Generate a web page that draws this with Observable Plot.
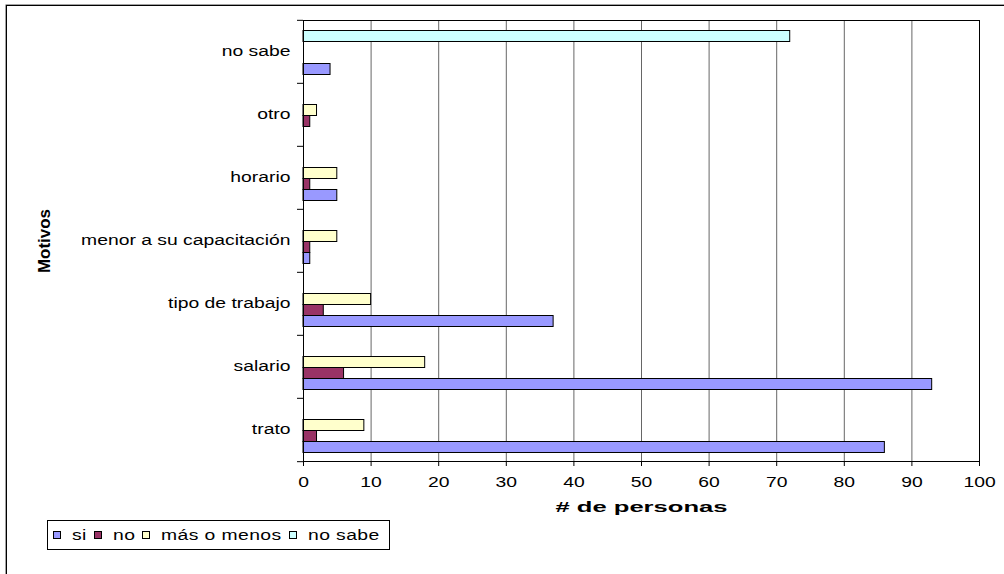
<!DOCTYPE html>
<html>
<head>
<meta charset="utf-8">
<script src="https://cdn.jsdelivr.net/npm/d3@7"></script>
<script src="https://cdn.jsdelivr.net/npm/@observablehq/plot@0.6"></script>
<style>
  body { margin: 0; background: #fff; font-family: "Liberation Sans", Arial, sans-serif; }
  #wrap { position: relative; width: 1004px; height: 574px; overflow: hidden; background: #fff; }
  #border { position: absolute; left: 6px; top: 5px; width: 1200px; height: 800px; border: 1px solid #000; box-shadow: 0 0 0 0.5px #444; }
  #chart { position: absolute; left: 0; top: 0; }
  #legend { position: absolute; left: 47px; top: 520px; width: 336px; height: 28px; border: 1px solid #000;
            display: flex; align-items: center; padding-left: 5px; box-sizing: content-box; font-size: 14px; background:#fff; }
  #legend .item { display: inline-flex; align-items: center; margin-right: 7px; flex-shrink: 0; }
  #legend .sw { display: inline-block; flex-shrink: 0; width: 6px; height: 6px; border: 1px solid #000; margin-right: 11px; box-sizing: content-box; }
  #legend .lab { display: inline-block; white-space: nowrap; overflow: visible; }
  #legend .lab span { display: inline-block; transform-origin: left center; white-space: nowrap; letter-spacing: 0.3px; }
</style>
</head>
<body>
<div id="wrap">
  <div id="border"></div>
  <div id="chart"></div>
  <div id="legend"></div>
</div>
<script>
// ---- data ----
const motivos = ["trato", "salario", "tipo de trabajo", "menor a su capacitación", "horario", "otro", "no sabe"];
const series = ["si", "no", "más o menos", "no sabe"];
const si        = [86, 93, 37, 1, 5, 0, 4];
const no        = [2, 6, 3, 1, 1, 1, 0];
const masOMenos = [9, 18, 10, 5, 5, 2, 0];
const noSabe    = [0, 0, 0, 0, 0, 0, 72];
const xTicks = [0, 10, 20, 30, 40, 50, 60, 70, 80, 90, 100];
const colors = ["#9999FF", "#993366", "#FFFFCC", "#CCFFFF"];

const SX = 1.38; // horizontal stretch of the reference's text

const valuesBySeries = [si, no, masOMenos, noSabe];
const rows = [];
motivos.forEach((m, i) => {
  valuesBySeries.forEach((arr, j) => {
    if (arr[i] > 0) rows.push({motivo: m, serie: series[j], value: arr[i]});
  });
});

const W = 1004, H = 574, mT = 18.5, mB = 112, mL = 303, mR = 25;
const step = (H - mT - mB) / motivos.length;

const chart = Plot.plot({
  width: W, height: H,
  marginLeft: mL, marginRight: mR, marginTop: mT, marginBottom: mB,
  style: {fontFamily: '"Liberation Sans", Arial, sans-serif', fontSize: "14px", color: "#000", background: "transparent"},
  x: {domain: [0, 100]},
  y: {domain: [...series].reverse(), axis: null, paddingInner: 0, paddingOuter: 0.73, align: 0.57},
  fy: {domain: [...motivos].reverse(), padding: 0},
  color: {domain: series, range: colors},
  marks: [
    Plot.gridX(xTicks.slice(1, -1), {stroke: "#000", strokeOpacity: 0.6}),
    Plot.barX(rows, {x: "value", y: "serie", fy: "motivo", fill: "serie", stroke: "#000", strokeWidth: 1}),
    Plot.frame({stroke: "#000", facet: "super"}),
    Plot.axisX({ticks: xTicks, tickSize: 5, tickPadding: 11, label: "# de personas", labelAnchor: "center", labelArrow: "none", labelOffset: 50}),
    Plot.axisFy({anchor: "left", tickSize: 0, tickPadding: 13, label: "Motivos", labelAnchor: "center", labelOffset: 265}),
    Plot.axisFy({anchor: "left", tickSize: 6, tickFormat: () => "", label: null, dy: -step / 2}),
    Plot.axisFy({anchor: "left", ticks: ["trato"], tickSize: 6, tickFormat: () => "", label: null, dy: step / 2})
  ]
});
document.getElementById("chart").append(chart);

// stretch text horizontally like the reference
chart.querySelectorAll("text").forEach(t => {
  const L = t.getComputedTextLength();
  if (L > 0) {
    t.setAttribute("textLength", L * SX);
    t.setAttribute("lengthAdjust", "spacingAndGlyphs");
  }
});
const xl = chart.querySelector('[aria-label="x-axis label"] text');
if (xl) {
  xl.setAttribute("font-weight", "bold");
  xl.setAttribute("font-size", "15");
  xl.setAttribute("textLength", 172);
}
const yl = chart.querySelector('[aria-label="fy-axis label"] text');
if (yl) {
  yl.setAttribute("font-weight", "bold");
  yl.setAttribute("font-size", "16");
  yl.setAttribute("textLength", 64);
}

// legend
const legend = document.getElementById("legend");
series.forEach((s, i) => {
  const item = document.createElement("span"); item.className = "item";
  const sw = document.createElement("span"); sw.className = "sw"; sw.style.background = colors[i];
  const lab = document.createElement("span"); lab.className = "lab";
  const inner = document.createElement("span"); inner.textContent = s;
  lab.append(inner); item.append(sw, lab); legend.append(item);
});
legend.querySelectorAll(".lab").forEach(lab => {
  const inner = lab.firstChild;
  const w = inner.getBoundingClientRect().width;
  lab.style.width = (w * SX) + "px";
  inner.style.transform = `scaleX(${SX})`;
});
</script>
</body>
</html>
